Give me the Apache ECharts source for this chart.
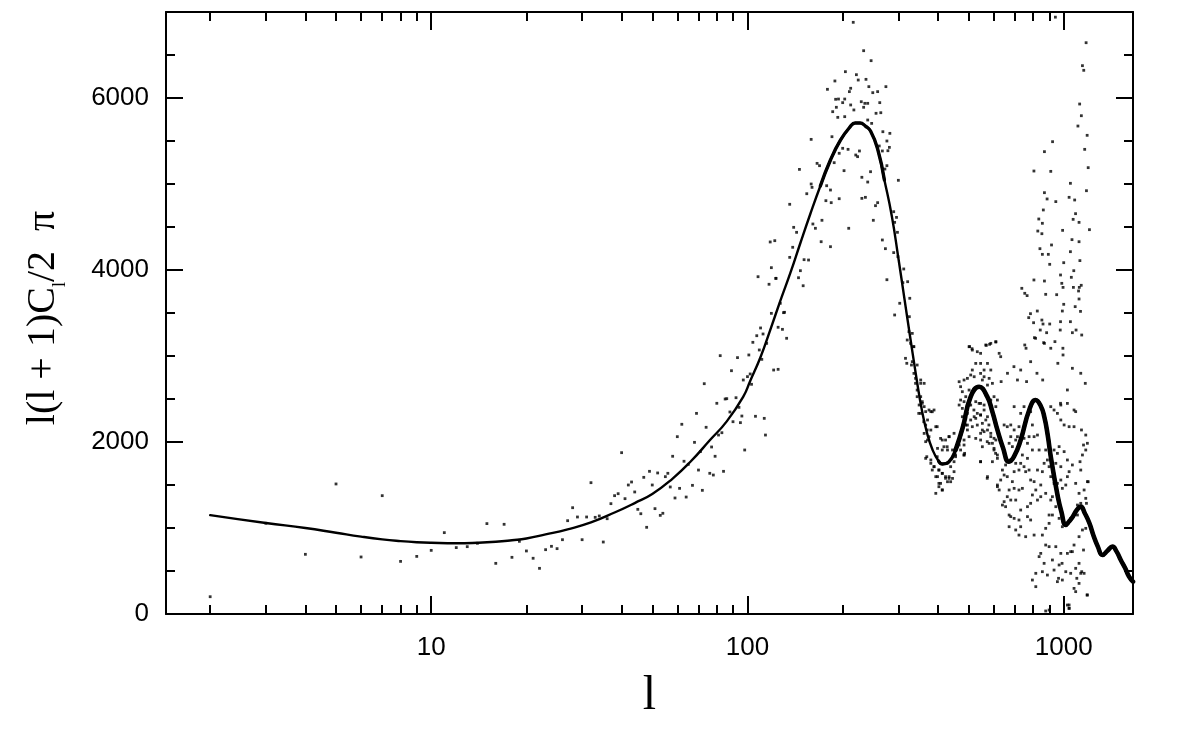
<!DOCTYPE html>
<html><head><meta charset="utf-8">
<script src="https://cdn.jsdelivr.net/npm/echarts@6/dist/echarts.min.js"></script>
<style>html,body{margin:0;padding:0;background:#fff}#c{width:1196px;height:742px}</style>
</head><body><div id="c"></div>
<script>
// Theory curve: multipole l and l(l+1)C_l/2pi
const curveL = [2,3,4,5,6,7,8,9,10,12,14,16,18,20,23,27,32,38,44,50,58,66,76,86,97,102,110,118,127,137,147,158,170,183,197,211,219,227,236,245,258,271,286,300,314,328,343,356,369,385,402,414,433,455,479,508,540,573,595,617,643,671,696,731,778,815,846,868,890,910,958,983,1015,1039,1068,1100,1132,1166,1206,1240,1282,1326,1375,1426,1470,1515,1565,1609,1656];
const curveV = [1150,1058,1000,945,900,868,848,835,828,822,828,840,858,878,925,985,1065,1180,1290,1395,1575,1770,2020,2240,2527,2709,2988,3302,3640,3977,4314,4651,4977,5279,5512,5663,5709,5709,5674,5616,5407,5047,4628,4140,3651,3186,2721,2372,2116,1907,1779,1744,1767,1907,2163,2527,2643,2527,2350,2140,1930,1771,1829,2023,2372,2488,2419,2294,2080,1829,1364,1190,1035,1074,1131,1209,1248,1171,1055,919,783,686,736,783,725,628,531,434,376];

// Simulated measurements [l, value]
const lowLPoints = [[2,201],[3,1055],[4,694],[5,1512],[6,663],[7,1376],[8,612],[9,670],[10,740],[11,946],[12,772],[13,783],[14,822],[15,1051],[16,589],[17,1043],[18,659],[19,845],[20,733],[21,648],[22,531],[23,748],[24,787],[25,760],[26,864],[27,1085],[28,1236],[29,1128],[30,864],[31,1128],[32,1527],[33,1124],[34,1140],[35,837],[36,1108],[37,1283],[38,1376],[39,1399],[40,1876],[41,1341],[42,1500],[43,1535],[44,1419],[45,1217],[46,1166],[47,1589],[48,1008],[49,1659],[50,1500],[51,1225],[52,1640],[53,1147],[54,1171],[55,1597],[56,1636],[57,1477],[58,1834],[59,1349],[60,2062],[61,1461],[62,2206],[63,1776],[64,1360],[65,1740],[67,1496],[68,1996],[69,2333],[70,1674],[71,1888],[72,1438],[73,2678],[74,2171],[76,1636],[77,1942],[78,1616],[79,1834],[80,2450],[81,2081],[82,3004],[83,2108],[84,1659],[85,2500],[86,2504],[88,2349],[89,2829],[90,2236],[92,2515],[93,2981],[94,2403],[95,2225],[96,2302],[97,2721],[98,1907],[100,2760],[101,3012],[102,2791],[103,2671],[104,3159],[106,2299],[107,3236],[108,3922],[109,3070],[110,3326],[111,2961],[113,2275],[112,3256],[114,2081],[115,3147],[121,2837],[117,3834],[118,4326],[119,4027],[119,3496],[122,4341],[123,3903],[125,3334],[125,2845],[127,3613],[129,3310],[130,3504],[131,3508],[133,3206]];

const peakPoints = [[216,6880],[233,6550],[246,6434],[204,6306],[189,6198],[221,6271],[224,6209],[237,6217],[179,6101],[212,6113],[210,6074],[242,6132],[249,6062],[258,6074],[274,6132],[190,5985],[194,5988],[203,5988],[200,5946],[229,5957],[235,5938],[262,5946],[191,5892],[212,5919],[233,5892],[217,5861],[240,5938],[186,5841],[255,5822],[264,5829],[193,5775],[203,5783],[240,5744],[247,5705],[268,5608],[282,5589],[185,5550],[159,5519],[276,5500],[261,5442],[281,5426],[200,5415],[208,5403],[195,5357],[220,5337],[226,5384],[223,5318],[267,5384],[278,5387],[166,5240],[169,5213],[188,5248],[276,5213],[272,5174],[146,5170],[202,5155],[245,5143],[230,5078],[159,5000],[160,4961],[154,4887],[178,4980],[183,4930],[240,5023],[300,5043],[177,4806],[184,4783],[195,4829],[230,4833],[236,4845],[254,4748],[258,4783],[136,4764],[290,4678],[296,4612],[292,4554],[172,4578],[250,4578],[161,4535],[164,4485],[140,4496],[143,4438],[209,4485],[298,4438],[171,4329],[139,4264],[267,4349],[136,4147],[183,4271],[151,4120],[156,4116],[273,4248],[290,4202],[299,4155],[147,3992],[145,3910],[123,3903],[150,3817],[276,3887],[312,4012],[310,3853],[321,3864],[326,3671],[303,3613],[292,3477],[325,3457]];

const troughPoints = [[316,2973],[319,2915],[330,2895],[340,2740],[353,2682],[344,2527],[357,2450],[348,2333],[366,2353],[380,2353],[389,2372],[361,2236],[370,2140],[366,2004],[375,2062],[369,1829],[380,1791],[398,1829],[389,1713],[403,1674],[394,1597],[413,1636],[423,1578],[434,1597],[439,1713],[450,1655],[428,1752],[403,1519],[413,1442],[439,1538],[428,1945],[413,2023],[434,2062],[398,2178],[450,2101],[461,1945],[450,1849],[484,1849],[335,3109]];

const secondPeakPoints = [[324,3283],[332,3263],[320,3186],[328,3147],[336,3108],[332,2934],[344,2895],[336,2798],[353,2721],[340,2682],[362,2682],[344,2604],[353,2527],[357,2469],[349,2430],[362,2411],[375,2372],[384,2352],[353,2333],[371,2256],[366,2197],[380,2139],[394,2178],[362,2100],[371,2023],[408,2042],[423,2023],[418,1945],[434,2062],[399,1926],[413,1907],[429,1907],[445,1907],[455,1849],[366,1810],[380,1752],[389,1713],[384,1674],[403,1674],[413,1635],[399,1597],[423,1597],[434,1577],[445,1577],[408,1519],[429,1538],[403,1480],[413,1442],[394,1403],[502,3108],[514,3069],[533,3050],[546,3031],[567,3128],[588,3147],[610,3166],[625,3031],[632,2992],[527,2914],[546,2914],[560,2837],[574,2914],[588,2837],[514,2837],[508,2779],[521,2759],[546,2798],[560,2759],[581,2740],[595,2682],[574,2662],[553,2721],[496,2740],[484,2721],[467,2701],[472,2643],[502,2604],[514,2566],[478,2585],[490,2527],[472,2488],[484,2469],[467,2430],[502,2430],[527,2469],[546,2449],[560,2430],[588,2488],[602,2527],[617,2488],[610,2411],[595,2333],[574,2294],[546,2314],[533,2333],[521,2294],[508,2256],[490,2275],[478,2294],[496,2197],[514,2178],[533,2197],[553,2139],[574,2139],[588,2062],[610,2023],[546,2023],[527,2042],[502,2062],[484,2023],[467,1965],[472,1907],[455,1829],[450,1771],[484,1849],[553,1945],[581,1984],[602,1907],[617,1849],[546,1771],[574,1597],[617,1500],[625,1442]];

const thirdPeakPoints = [[478,2391],[496,2333],[508,2430],[520,2372],[527,2275],[540,2449],[546,2314],[553,2217],[560,2372],[567,2256],[580,2198],[588,2101],[595,1985],[602,1926],[609,1868],[617,1810],[595,1771],[602,2043],[573,2004],[560,2120],[546,2101],[490,2198],[496,2140],[484,1965],[486,1868],[546,1771],[573,1578],[648,2198],[663,2178],[680,2198],[697,2140],[705,2023],[680,2062],[672,1985],[688,1946],[714,2062],[722,2178],[697,2411],[731,2333],[749,2411],[768,2295],[786,2353],[796,2198],[749,2043],[768,1985],[777,2062],[806,2062],[826,2081],[836,1907],[796,1907],[768,1810],[740,1849],[731,1752],[749,1713],[758,1655],[777,1674],[786,1558],[806,1539],[816,1442],[846,1500],[856,1655],[826,1674],[867,1752],[877,1907],[888,1791],[899,1713],[910,1597],[932,1519],[877,1403],[846,1364],[826,1325],[796,1384],[786,1287],[768,1248],[731,1209],[705,1325],[680,1325],[663,1364],[648,1306],[640,1267],[655,1248],[672,1442],[697,1461],[722,1442],[740,1461],[688,1539],[663,1597],[648,1616],[632,1558],[617,1481],[640,1674],[655,1733],[680,1791],[705,1752],[722,1674],[697,1655],[672,1151],[680,1132],[697,1112],[722,1093],[768,1132],[786,1093],[731,1015],[705,977],[672,1015],[722,918],[758,899],[806,918],[856,918],[877,996],[899,1054],[921,1151],[944,1248],[979,1209],[910,1325],[921,1364],[955,1519],[979,1558],[990,1461],[1015,1500],[1027,1597],[979,1713],[944,1752],[955,1868],[932,1907],[967,1946],[1003,1888],[1027,1791],[1065,1733],[1040,1655],[1091,1519],[1118,1403],[1132,1287],[1105,1267],[1174,1345],[1160,1442],[1188,1539],[1132,1674],[1126,1771],[1146,1849],[1174,1907],[1188,1985],[1174,2081],[1138,2140],[1078,2178],[1040,2178],[1003,2198],[979,2256],[955,2333],[932,2372],[910,2411],[979,2430],[1027,2449],[1091,2353],[899,1151],[967,1112],[990,1015],[1027,1054],[1052,1112],[1105,1151],[1146,977],[1174,996],[1118,899],[1078,802],[1052,725],[1027,705],[979,705],[944,783],[899,783],[877,802],[846,705],[836,667],[867,589],[921,628],[932,511],[967,570],[990,395],[955,376],[888,453],[856,492],[816,473],[796,395],[816,318],[1015,492],[1052,473],[1091,531],[1118,589],[1132,473],[1078,298],[1091,260],[1118,356],[1160,473],[1188,221],[1027,104],[1040,66],[877,35],[899,46]];

const highLPoints = [[941,6940],[1177,6643],[1146,6376],[1157,6322],[1123,5930],[1137,5794],[1109,5674],[1186,5566],[922,5492],[869,5376],[1165,5403],[805,5151],[910,5147],[1195,5190],[1050,5008],[869,4899],[886,4826],[944,4795],[1040,4845],[1083,4814],[1180,4922],[862,4698],[1090,4655],[1071,4589],[834,4593],[856,4543],[1118,4554],[1206,4469],[992,4461],[828,4453],[853,4422],[1062,4353],[1118,4329],[915,4291],[841,4248],[856,4182],[894,4182],[1050,4213],[903,4066],[1000,4085],[977,3942],[1125,4109],[1076,3992],[1057,3915],[805,3884],[869,3872],[986,3845],[995,3798],[1073,3798],[1120,3798],[1136,3822],[1114,3756],[737,3787],[753,3729],[766,3702],[877,3717],[950,3713],[1118,3663],[1087,3574],[1000,3601],[1130,3519],[990,3523],[825,3523],[785,3492],[803,3387],[775,3446],[853,3418],[860,3372],[903,3372],[1050,3399],[977,3399],[975,3302],[843,3302],[883,3271],[1065,3271],[1094,3302],[1140,3244],[938,3167],[864,3155],[808,3213],[994,3090],[753,3128],[760,3090],[610,3163],[583,3136],[569,3124],[504,3109],[513,3085],[815,3206],[869,3147],[910,3090],[786,2934],[823,2799],[858,2721],[731,2837],[714,2721],[763,2702],[958,2915],[995,3012],[1065,2857],[1132,2799],[1170,2682],[1027,2605],[977,2450],[1078,2372],[696,2876],[664,2799],[634,2702],[1180,1287],[1195,1538],[1155,1965],[1185,221],[1040,105],[1040,66],[988,589],[963,415],[1065,725],[1100,415],[1140,492],[1155,744]];

// Axis ticks
const xMajorTicks = [10, 100, 1000];
const xMinorTicks = [2,3,4,5,6,7,8,9,20,30,40,50,60,70,80,90,200,300,400,500,600,700,800,900];
const yMajorTicks = [0, 2000, 4000, 6000];
const yMinorTicks = [500,1000,1500,2500,3000,3500,4500,5000,5500,6500];
const X_MIN = 1.45, X_MAX = 1656, Y_MIN = 0, Y_MAX = 7000;

const lg = v => Math.log10(v);
const curve = curveL.map((l, i) => [l, curveV[i]]);
const curvePeak = curve.filter(p => p[0] >= 170 && p[0] <= 271);
const curveMid = curve.filter(p => p[0] >= 402);
const curveThick = curve.filter(p => p[0] >= 455);
const scatterPoints = lowLPoints.concat(peakPoints, troughPoints, secondPeakPoints, thirdPeakPoints, highLPoints);

const black = '#000';
const labelFont = { color: black, fontFamily: 'Liberation Sans', fontSize: 26 };

function xHelper(pos, ticks, len, showLine, withLabels) {
  return {
    type: 'value', position: pos, min: lg(X_MIN), max: lg(X_MAX),
    axisLine: { show: showLine, onZero: false, lineStyle: { color: black, width: 2 } },
    axisTick: { show: true, inside: true, length: len, customValues: ticks.map(lg), lineStyle: { color: black, width: 2 } },
    axisLabel: withLabels ? Object.assign({ show: true, margin: 21, customValues: ticks.map(lg),
      formatter: v => String(Math.round(Math.pow(10, v))) }, labelFont) : { show: false },
    splitLine: { show: false }
  };
}
function yHelper(pos, ticks, len, showLine) {
  return {
    type: 'value', position: pos, min: Y_MIN, max: Y_MAX,
    axisLine: { show: showLine, onZero: false, lineStyle: { color: black, width: 2 } },
    axisTick: { show: true, inside: true, length: len, customValues: ticks, lineStyle: { color: black, width: 2 } },
    axisLabel: { show: false },
    splitLine: { show: false }
  };
}
function curveSeries(data, width) {
  return { type: 'line', xAxisIndex: 0, yAxisIndex: 0, data: data, smooth: true, showSymbol: false,
    lineStyle: { color: black, width: width, cap: 'round', join: 'round' }, silent: true, clip: true };
}

const chart = echarts.init(document.getElementById('c'), null, { renderer: 'canvas' });
chart.setOption({
  animation: false,
  backgroundColor: '#fff',
  grid: { left: 166, right: 63, top: 12, bottom: 128, containLabel: false, outerBoundsMode: 'none' },
  xAxis: [
    { type: 'log', logBase: 10, position: 'bottom', min: X_MIN, max: X_MAX,
      axisLine: { show: true, onZero: false, lineStyle: { color: black, width: 2 } },
      axisTick: { show: false }, axisLabel: { show: false }, splitLine: { show: false },
      name: 'l', nameLocation: 'middle', nameGap: 58,
      nameTextStyle: { color: black, fontFamily: 'Liberation Serif', fontSize: 48 } },
    xHelper('bottom', xMajorTicks, 18, false, true),
    xHelper('bottom', xMinorTicks, 9, false, false),
    xHelper('top', xMajorTicks, 18, true, false),
    xHelper('top', xMinorTicks, 9, false, false)
  ],
  yAxis: [
    { type: 'value', position: 'left', min: Y_MIN, max: Y_MAX,
      axisLine: { show: true, onZero: false, lineStyle: { color: black, width: 2 } },
      axisTick: { show: true, inside: true, length: 17, customValues: yMajorTicks, lineStyle: { color: black, width: 2 } },
      axisLabel: Object.assign({ show: true, margin: 17, customValues: yMajorTicks, padding: [11, 0, 0, 0],
        formatter: v => String(v) }, labelFont),
      splitLine: { show: false } },
    yHelper('left', yMinorTicks, 9, false),
    yHelper('right', yMajorTicks, 17, true),
    yHelper('right', yMinorTicks, 9, false)
  ],
  graphic: [{
    type: 'text', x: 43, y: 318, rotation: Math.PI / 2, silent: true,
    style: {
      text: '{m|l(l + 1)C}{s|l}{m|/2  π}',
      align: 'center', verticalAlign: 'middle', fill: black,
      rich: {
        m: { fontFamily: 'Liberation Serif', fontSize: 40, fill: black, color: black },
        s: { fontFamily: 'Liberation Serif', fontSize: 18, padding: [35, 0, 0, 0], fill: black, color: black }
      }
    }
  }],
  series: [
    { type: 'scatter', xAxisIndex: 0, yAxisIndex: 0, data: scatterPoints,
      symbol: 'rect', symbolSize: 2.8, itemStyle: { color: black }, silent: true, clip: true },
    curveSeries(curve, 2.4),
    curveSeries(curvePeak, 3.4),
    curveSeries(curveMid, 3.4),
    curveSeries(curveThick, 4.6)
  ]
});
</script>
</body></html>
